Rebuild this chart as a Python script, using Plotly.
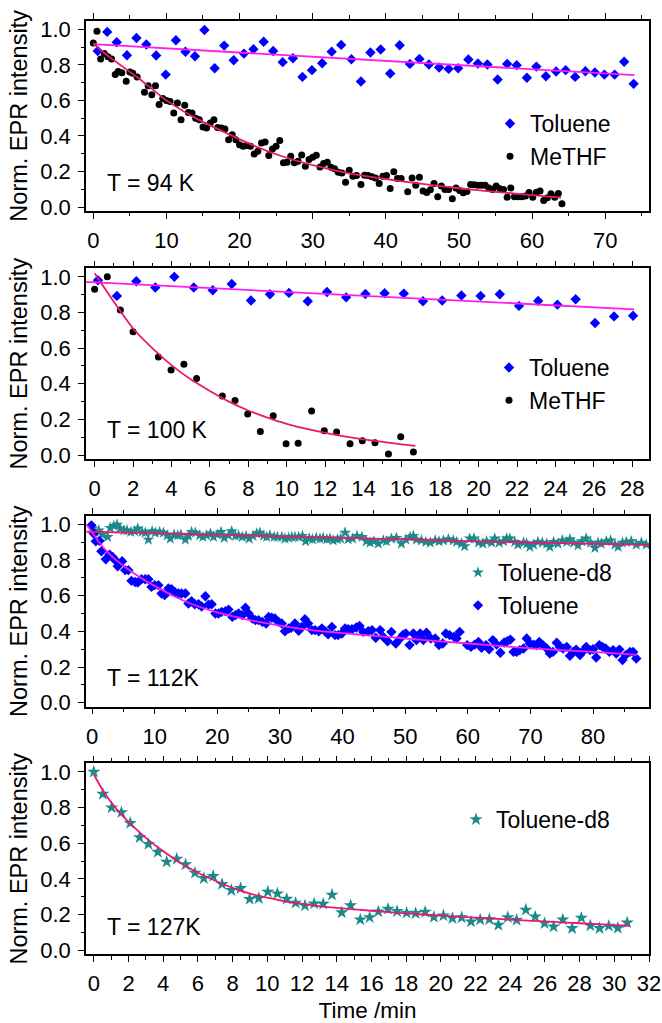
import plotly.graph_objects as go

# ---------------- data ----------------
# Panel 1: T = 94 K
p1_tol_t = [0.6, 1.9, 3.2, 4.6, 5.9, 7.25, 8.6, 9.9, 11.3, 12.6,
            13.9, 15.2, 16.6, 17.9, 19.2, 20.6, 21.9, 23.3, 24.6, 25.9,
            27.3, 28.6, 29.9, 31.3, 32.6, 33.9, 35.3, 36.6, 37.9, 39.3,
            40.6, 41.9, 43.3, 44.6, 45.9, 47.3, 48.6, 49.9, 51.3, 52.6,
            53.9, 55.3, 56.6, 57.9, 59.3, 60.6, 61.9, 63.3, 64.6, 65.9,
            67.3, 68.6, 69.9, 71.3, 72.6, 73.9]
p1_tol_i = [0.878, 0.985, 0.927, 0.854, 0.951, 0.914, 0.852, 0.745, 0.938, 0.873,
            0.848, 0.996, 0.781, 0.908, 0.826, 0.863, 0.888, 0.930, 0.878, 0.815,
            0.837, 0.732, 0.770, 0.809, 0.874, 0.912, 0.831, 0.706, 0.869, 0.886,
            0.751, 0.910, 0.805, 0.833, 0.802, 0.785, 0.777, 0.781, 0.830, 0.807,
            0.802, 0.717, 0.805, 0.798, 0.727, 0.790, 0.736, 0.762, 0.770, 0.732,
            0.764, 0.757, 0.745, 0.745, 0.817, 0.693]
p1_tol_fit_t = [0.0, 74.0]
p1_tol_fit_i = [0.916, 0.742]

p1_me_t = [0.0, 0.5, 1.0, 1.5, 2.0, 2.5, 3.0, 3.4, 3.9, 4.5,
           5.0, 5.4, 6.0, 7.0, 7.5, 8.0, 8.5, 9.0, 9.5, 10.0,
           10.5, 11.0, 11.5, 12.0, 12.5, 13.0, 13.5, 14.0, 14.5, 15.0,
           15.5, 16.0, 16.5, 17.0, 17.5, 18.0, 18.5, 19.0, 19.5, 20.0,
           20.5, 21.0, 21.5, 22.0, 22.5, 23.0, 23.5, 24.0, 24.5, 25.0,
           25.5, 26.0, 26.5, 27.0, 27.5, 28.0, 28.5, 29.0, 29.5, 30.0,
           30.5, 31.0, 31.5, 32.0, 32.5, 33.0, 33.5, 34.0, 34.5, 35.0,
           35.5, 36.0, 36.6, 37.1, 37.6, 38.1, 38.6, 39.1, 39.6, 40.1,
           40.6, 41.1, 41.6, 42.1, 43.0, 43.6, 44.1, 44.6, 45.1, 45.6,
           46.1, 46.6, 47.1, 47.6, 48.1, 48.6, 49.1, 49.6, 50.1, 50.6,
           51.1, 51.6, 52.1, 52.6, 53.1, 53.6, 54.1, 54.6, 55.1, 55.6,
           56.1, 56.6, 57.1, 57.6, 58.1, 58.6, 59.1, 59.6, 60.1, 60.6,
           61.1, 61.6, 62.1, 62.6, 63.1, 63.6, 64.1]
p1_me_i = [0.923, 0.988, 0.833, 0.863, 0.846, 0.833, 0.745, 0.762, 0.755, 0.708,
           0.759, 0.753, 0.732, 0.645, 0.682, 0.632, 0.682, 0.577, 0.611, 0.600,
           0.594, 0.529, 0.585, 0.491, 0.572, 0.532, 0.529, 0.500, 0.491, 0.450,
           0.445, 0.473, 0.491, 0.447, 0.445, 0.439, 0.379, 0.407, 0.379, 0.351,
           0.342, 0.346, 0.342, 0.299, 0.314, 0.361, 0.366, 0.290, 0.327, 0.342,
           0.374, 0.249, 0.252, 0.286, 0.249, 0.258, 0.293, 0.230, 0.267, 0.280,
           0.291, 0.226, 0.245, 0.252, 0.224, 0.215, 0.196, 0.192, 0.140, 0.207,
           0.174, 0.178, 0.127, 0.179, 0.177, 0.170, 0.164, 0.133, 0.174, 0.177,
           0.105, 0.198, 0.161, 0.161, 0.086, 0.164, 0.123, 0.168, 0.090, 0.082,
           0.097, 0.133, 0.058, 0.118, 0.099, 0.099, 0.047, 0.108, 0.093, 0.080,
           0.088, 0.127, 0.125, 0.123, 0.123, 0.123, 0.108, 0.099, 0.118, 0.103,
           0.099, 0.056, 0.108, 0.058, 0.058, 0.058, 0.062, 0.082, 0.056, 0.084,
           0.090, 0.037, 0.052, 0.075, 0.056, 0.077, 0.019]
p1_me_fit_t = [0, 2, 4, 6, 8, 10, 14, 18, 22, 26, 30, 35, 40, 45, 50, 55, 60, 64]
p1_me_fit_i = [0.92, 0.85, 0.79, 0.73, 0.665, 0.60, 0.50, 0.42, 0.345, 0.283, 0.236,
               0.19, 0.158, 0.13, 0.106, 0.086, 0.067, 0.053]

# Panel 2: T = 100 K
p2_tol_t = [0.17, 1.16, 2.17, 3.16, 4.15, 5.16, 6.15, 7.14, 8.14, 9.13,
            10.12, 11.1, 12.1, 13.1, 14.1, 15.1, 16.1, 17.1, 18.1, 19.1,
            20.1, 21.1, 22.1, 23.1, 24.1, 25.05, 26.06, 27.05, 28.04]
p2_tol_i = [0.981, 0.893, 0.975, 0.940, 1.0, 0.940, 0.925, 0.960, 0.867, 0.902,
            0.910, 0.863, 0.915, 0.885, 0.904, 0.908, 0.906, 0.863, 0.867, 0.895,
            0.893, 0.902, 0.837, 0.865, 0.844, 0.874, 0.741, 0.778, 0.782]
p2_tol_fit_t = [-0.48, 28.1]
p2_tol_fit_i = [0.972, 0.818]

p2_me_t = [0.0, 0.66, 1.34, 2.0, 3.32, 3.98, 4.65, 5.31, 6.65, 7.31,
           7.97, 8.63, 9.3, 9.97, 10.6, 11.3, 11.96, 12.6, 13.3, 13.94,
           14.6, 15.3, 15.94, 16.6]
p2_me_i = [0.930, 1.0, 0.814, 0.692, 0.551, 0.478, 0.510, 0.430, 0.332, 0.306,
           0.231, 0.133, 0.221, 0.064, 0.066, 0.248, 0.137, 0.129, 0.064, 0.081,
           0.069, 0.006, 0.103, 0.017]
p2_me_fit_t = [0, 1, 2, 3, 4, 5, 6, 7, 8, 9, 10, 11, 12, 13, 14, 15, 16, 16.7]
p2_me_fit_i = [1.02, 0.86, 0.71, 0.60, 0.505, 0.425, 0.36, 0.30, 0.25, 0.21,
               0.175, 0.148, 0.125, 0.105, 0.088, 0.074, 0.06, 0.052]

# Panel 3: T = 112 K
p3_d8_t = [0.1, 0.5, 1.1, 1.6, 2.5, 2.9, 3.5, 4.0, 4.5, 5.1,
           5.6, 6.2, 6.8, 7.3, 8.0, 8.5, 9.0, 9.6, 10.1, 10.8,
           11.4, 12.0, 12.5, 13.1, 13.7, 14.2, 14.9, 15.4, 15.9, 16.5,
           17.2, 17.7, 18.3, 18.9, 19.4, 20.0, 20.6, 21.1, 21.8, 22.3,
           22.9, 23.4, 24.0, 24.6, 25.1, 25.7, 26.3, 26.8, 27.4, 27.9,
           28.4, 29.1, 29.6, 30.3, 30.8, 31.4, 31.9, 32.4, 33.0, 33.6,
           34.1, 34.7, 35.2, 35.8, 36.4, 36.9, 37.5, 38.0, 38.5, 39.2,
           39.7, 40.4, 40.9, 41.6,
           42.3, 43.1, 43.8, 44.4, 45.0, 45.7, 46.5, 47.0, 47.8, 48.6,
           49.4, 50.1, 50.8, 51.3, 51.8, 52.6, 53.3, 54.0, 54.8, 55.4,
           56.1, 56.9, 57.7, 58.2, 59.0, 59.5, 60.3, 61.0, 61.7, 62.4,
           63.0, 63.8, 64.3, 65.0, 65.7, 66.2, 66.7, 67.5, 68.0, 68.9,
           69.4, 69.9, 70.5, 71.2, 71.9, 72.6, 73.1, 73.7, 74.4, 75.1,
           75.8, 76.3, 76.9, 77.6, 78.2, 78.9, 79.6, 80.3, 80.8, 81.3,
           82.1, 82.8, 83.5, 84.0, 84.7, 85.3, 86.1, 86.9, 87.7, 88.5]
p3_d8_i = [0.976, 0.957, 0.966, 0.942, 0.929, 0.980, 0.991, 0.998, 0.976, 0.966,
           0.966, 0.957, 0.961, 0.976, 0.957, 0.953, 0.914, 0.961, 0.953, 0.957,
           0.953, 0.938, 0.920, 0.942, 0.938, 0.942, 0.914, 0.935, 0.957, 0.953,
           0.938, 0.929, 0.938, 0.948, 0.929, 0.942, 0.957, 0.924, 0.938, 0.961,
           0.935, 0.938, 0.929, 0.933, 0.920, 0.935, 0.948, 0.953, 0.935, 0.929,
           0.938, 0.929, 0.929, 0.929, 0.920, 0.924, 0.929, 0.929, 0.929, 0.935,
           0.905, 0.920, 0.916, 0.924, 0.920, 0.924, 0.916, 0.920, 0.910, 0.916,
           0.920, 0.953, 0.916, 0.920,
           0.935, 0.929, 0.905, 0.897, 0.905, 0.892, 0.910, 0.905, 0.920, 0.924,
           0.892, 0.914, 0.929, 0.935, 0.914, 0.910, 0.901, 0.897, 0.910, 0.905,
           0.910, 0.916, 0.910, 0.901, 0.892, 0.877, 0.920, 0.920, 0.897, 0.892,
           0.905, 0.897, 0.920, 0.897, 0.905, 0.920, 0.920, 0.901, 0.886, 0.897,
           0.892, 0.873, 0.886, 0.901, 0.897, 0.892, 0.873, 0.901, 0.892, 0.910,
           0.901, 0.916, 0.897, 0.882, 0.905, 0.920, 0.897, 0.868, 0.897, 0.892,
           0.905, 0.910, 0.886, 0.873, 0.897, 0.901, 0.905, 0.886, 0.897, 0.886]
p3_d8_fit_t = [-0.9, 10, 20, 30, 40, 50, 60, 70, 80, 88.9]
p3_d8_fit_i = [0.958, 0.950, 0.941, 0.932, 0.924, 0.915, 0.906, 0.898, 0.891, 0.885]

p3_tol_t = [-0.1, 0.27, 0.6, 1.2, 1.5, 2.2, 2.8, 3.3, 3.7, 4.1,
            4.8, 5.3, 5.8, 6.3, 6.9, 7.3, 7.9, 8.5, 9.0, 9.5,
            10.0, 10.6, 11.1, 11.6, 12.2, 12.7, 13.2, 13.8, 14.3, 14.9,
            15.4, 15.9, 16.4, 17.0, 17.5, 18.1, 18.6, 19.1, 19.7, 20.2,
            20.7, 21.3, 21.8, 22.4, 22.9, 23.4, 24.0, 24.5, 25.0, 25.6,
            26.1, 26.6, 27.2, 27.8, 28.2, 28.7, 29.2, 29.8, 30.3, 30.8,
            31.4, 31.8, 32.4, 33.0, 33.5, 34.0, 34.5, 35.1, 35.6, 36.2,
            36.7, 37.2, 37.7, 38.3, 38.8, 39.3, 39.9, 40.4, 40.9,
            41.5, 42.2, 42.7, 43.3, 44.1, 44.7, 45.3, 46.0, 46.5, 47.2,
            47.8, 48.5, 49.2, 49.7, 50.1, 50.7, 51.3, 51.8, 52.4, 52.9,
            53.4, 54.1, 54.8, 55.4, 56.0, 56.5, 57.1, 57.8, 58.2, 58.7,
            59.9, 60.5, 61.1, 61.7, 62.2, 62.9, 63.4, 64.0, 64.6, 65.2,
            65.8, 66.3, 66.8, 67.3, 67.8, 68.3, 68.9, 69.4, 69.9, 70.5,
            71.0, 71.4, 71.9, 72.6, 73.1, 73.6, 74.2, 74.7, 75.2, 75.8,
            76.3, 76.8, 77.3, 77.9, 78.4, 78.9, 79.5, 80.0, 80.5, 81.0,
            81.5, 82.0, 82.6, 83.2, 83.7, 84.2, 84.7, 85.2, 85.9, 86.4,
            86.9]
p3_tol_i = [0.994, 0.948, 0.905, 0.907, 0.849, 0.804, 0.830, 0.817, 0.799, 0.765,
            0.793, 0.743, 0.743, 0.683, 0.677, 0.674, 0.692, 0.692, 0.692, 0.649,
            0.659, 0.659, 0.612, 0.603, 0.640, 0.636, 0.621, 0.612, 0.612, 0.612,
            0.556, 0.569, 0.552, 0.552, 0.539, 0.597, 0.550, 0.552, 0.500, 0.500,
            0.509, 0.513, 0.522, 0.481, 0.491, 0.500, 0.491, 0.532, 0.500, 0.472,
            0.463, 0.463, 0.453, 0.444, 0.481, 0.476, 0.472, 0.453, 0.444, 0.401,
            0.416, 0.420, 0.444, 0.403, 0.425, 0.468, 0.444, 0.407, 0.407, 0.401,
            0.416, 0.401, 0.384, 0.425, 0.379, 0.379, 0.388, 0.416, 0.412,
            0.412, 0.422, 0.431, 0.397, 0.401, 0.407, 0.364, 0.407, 0.369, 0.345,
            0.397, 0.332, 0.360, 0.382, 0.388, 0.323, 0.388, 0.351, 0.388, 0.351,
            0.392, 0.360, 0.360, 0.323, 0.332, 0.388, 0.379, 0.369, 0.360, 0.397,
            0.323, 0.313, 0.326, 0.341, 0.308, 0.323, 0.300, 0.351, 0.326, 0.280,
            0.338, 0.345, 0.354, 0.285, 0.285, 0.295, 0.304, 0.360, 0.332, 0.326,
            0.323, 0.341, 0.326, 0.304, 0.276, 0.285, 0.336, 0.313, 0.304, 0.313,
            0.263, 0.285, 0.298, 0.267, 0.289, 0.313, 0.295, 0.300, 0.254, 0.323,
            0.313, 0.304, 0.285, 0.295, 0.276, 0.298, 0.239, 0.267, 0.285, 0.285,
            0.248]
p3_tol_fit_t = [-0.9, 0, 1, 2, 3, 4, 6, 8, 10, 13, 16, 20, 25, 30, 35, 40, 45, 50,
                60, 70, 80, 87]
p3_tol_fit_i = [1.0, 0.955, 0.905, 0.862, 0.826, 0.795, 0.742, 0.695, 0.655, 0.598,
                0.552, 0.506, 0.465, 0.432, 0.407, 0.39, 0.375, 0.36, 0.332, 0.305,
                0.285, 0.268]

# Panel 4: T = 127 K
p4_d8_t = [0.0, 0.52, 1.03, 1.59, 2.1, 2.64, 3.15, 3.69, 4.2, 4.78,
           5.29, 5.83, 6.34, 6.88, 7.39, 7.93, 8.46, 8.98, 9.51, 10.03,
           10.58, 11.12, 11.63, 12.17, 12.7, 13.22, 13.73, 14.29, 14.8, 15.36,
           15.9, 16.4, 16.96, 17.48, 18.03, 18.55, 19.1, 19.6, 20.15, 20.67,
           21.2, 21.74, 22.27, 22.8, 23.32, 23.86, 24.37, 24.9, 25.44, 25.98,
           26.5, 27.03, 27.57, 28.1, 28.62, 29.15, 29.68, 30.2, 30.74]
p4_d8_i = [1.0, 0.876, 0.80, 0.773, 0.713, 0.633, 0.595, 0.551, 0.496, 0.513,
           0.481, 0.434, 0.404, 0.416, 0.371, 0.337, 0.348, 0.287, 0.292, 0.328,
           0.318, 0.288, 0.266, 0.251, 0.262, 0.260, 0.311, 0.212, 0.252, 0.172,
           0.185, 0.217, 0.232, 0.219, 0.210, 0.208, 0.215, 0.187, 0.195, 0.180,
           0.184, 0.161, 0.172, 0.174, 0.142, 0.185, 0.170, 0.227, 0.189, 0.152,
           0.133, 0.172, 0.124, 0.182, 0.139, 0.124, 0.137, 0.125, 0.155]
p4_fit_t = [0, 0.5, 1, 1.5, 2, 3, 4, 5, 6, 7, 8, 9, 10, 11, 12, 13, 14, 16, 18, 20,
            22, 24, 26, 28, 30, 30.9]
p4_fit_i = [0.985, 0.90, 0.83, 0.77, 0.72, 0.63, 0.555, 0.49, 0.435, 0.39, 0.35,
            0.318, 0.295, 0.275, 0.26, 0.248, 0.238, 0.222, 0.207, 0.195, 0.183,
            0.172, 0.162, 0.152, 0.142, 0.138]

panel_labels = ["T = 94 K", "T = 100 K", "T = 112K", "T = 127K"]
x_ranges = [[-1.0, 76.0], [-0.45, 28.87], [-0.96, 88.93], [-0.45, 32.0]]
x_dticks = [10, 2, 10, 2]
x_minor = [5, 1, 5, 1]
y_range = [-0.022, 1.048]

# ---------------- styling ----------------
FONT = "Liberation Sans, Arial, Helvetica, sans-serif"
BLUE = "#0000FF"
BLACK = "#000000"
TEAL = "#1A8A8A"
MAGENTA = "#FF1CF0"
CRIMSON = "#EA1872"

W, H = 662, 1023
ML, MR = 86, 13
plot_w = W - ML - MR
# panel frames (pixel rows, top/bottom)
frames = [(20.7, 211.0), (268.3, 459.0), (515.7, 706.7), (763.3, 954.3)]
domains = [[1 - b / H, 1 - t / H] for (t, b) in frames]

fig = go.Figure()


def add_points(n, x, y, name, symbol, color, size, legend):
    fig.add_trace(go.Scatter(
        x=x, y=y, mode="markers", name=name,
        marker=dict(symbol=symbol, color=color, size=size, line=dict(width=0)),
        xaxis="x" if n == 1 else f"x{n}", yaxis="y" if n == 1 else f"y{n}",
        legend=legend, showlegend=True))


def add_fit(n, x, y, color):
    fig.add_trace(go.Scatter(
        x=x, y=y, mode="lines", line=dict(color=color, width=1.8, shape="spline",
                                          smoothing=0.6),
        xaxis="x" if n == 1 else f"x{n}", yaxis="y" if n == 1 else f"y{n}",
        showlegend=False, hoverinfo="skip"))


# panel 1
add_points(1, p1_tol_t, p1_tol_i, "Toluene", "diamond", BLUE, 8, "legend")
add_points(1, p1_me_t, p1_me_i, "MeTHF", "circle", BLACK, 7, "legend")
add_fit(1, p1_tol_fit_t, p1_tol_fit_i, MAGENTA)
add_fit(1, p1_me_fit_t, p1_me_fit_i, CRIMSON)
# panel 2
add_points(2, p2_tol_t, p2_tol_i, "Toluene", "diamond", BLUE, 8, "legend2")
add_points(2, p2_me_t, p2_me_i, "MeTHF", "circle", BLACK, 7, "legend2")
add_fit(2, p2_tol_fit_t, p2_tol_fit_i, MAGENTA)
add_fit(2, p2_me_fit_t, p2_me_fit_i, CRIMSON)
# panel 3
add_points(3, p3_d8_t, p3_d8_i, "Toluene-d8", "star", TEAL, 9, "legend3")
add_points(3, p3_tol_t, p3_tol_i, "Toluene", "diamond", BLUE, 8, "legend3")
add_fit(3, p3_d8_fit_t, p3_d8_fit_i, CRIMSON)
add_fit(3, p3_tol_fit_t, p3_tol_fit_i, MAGENTA)
# panel 4
add_points(4, p4_d8_t, p4_d8_i, "Toluene-d8", "star", TEAL, 10, "legend4")
add_fit(4, p4_fit_t, p4_fit_i, CRIMSON)

TICK_SIZE = 22

layout = dict(
    width=W, height=H, autosize=False,
    margin=dict(l=ML, r=MR, t=0, b=0, pad=0),
    paper_bgcolor="white", plot_bgcolor="white",
    font=dict(family=FONT, color="black", size=TICK_SIZE),
    showlegend=True,
)

for i in range(4):
    n = i + 1
    xk = "xaxis" if n == 1 else f"xaxis{n}"
    yk = "yaxis" if n == 1 else f"yaxis{n}"
    layout[xk] = dict(
        domain=[0, 1], range=x_ranges[i], anchor="y" if n == 1 else f"y{n}",
        tick0=0, dtick=x_dticks[i], ticks="outside", ticklen=6, tickwidth=1.3,
        tickcolor="black", showline=True, linecolor="black", linewidth=1.5,
        mirror="allticks", showgrid=False, zeroline=False,
        tickfont=dict(family=FONT, size=TICK_SIZE, color="black"),
        ticklabelstandoff=3, automargin=False,
        minor=dict(dtick=x_minor[i], tick0=0, ticks="outside", ticklen=3.5,
                   tickwidth=1.2, tickcolor="black", showgrid=False),
    )
    layout[yk] = dict(
        domain=domains[i], range=y_range, anchor="x" if n == 1 else f"x{n}",
        tick0=0, dtick=0.2, tickformat=".1f", ticks="outside", ticklen=6,
        tickwidth=1.3, tickcolor="black", showline=True, linecolor="black",
        linewidth=1.5, mirror=True, showgrid=False, zeroline=False,
        tickfont=dict(family=FONT, size=TICK_SIZE, color="black"),
        ticklabelstandoff=3, automargin=False,
        minor=dict(dtick=0.1, tick0=0, ticks="outside", ticklen=3.5,
                   tickwidth=1.2, tickcolor="black", showgrid=False),
        title=dict(text="Norm. EPR intensity", standoff=6,
                   font=dict(family=FONT, size=23.5, color="black")),
    )

layout["xaxis4"]["title"] = dict(text="Time /min", standoff=7,
                                 font=dict(family=FONT, size=22.5, color="black"))

# legends (one per panel): left edge / top edge in pixels
legend_px = [(490, 102), (489, 346), (458, 551), (456, 798)]
for i, (lx, ly) in enumerate(legend_px):
    key = "legend" if i == 0 else f"legend{i + 1}"
    layout[key] = dict(
        x=(lx - ML) / plot_w, y=1 - ly / H, xanchor="left", yanchor="top",
        bgcolor="rgba(0,0,0,0)", borderwidth=0,
        font=dict(family=FONT, size=23, color="black"),
        tracegroupgap=0, itemclick=False, itemdoubleclick=False,
    )

# temperature labels
label_px = [183.3, 430.0, 678.3, 926.7]
layout["annotations"] = [
    dict(text=txt, x=(106 - ML) / plot_w, y=1 - py / H, xref="paper", yref="paper",
         xanchor="left", yanchor="middle", showarrow=False, borderpad=0,
         font=dict(family=FONT, size=23, color="black"))
    for txt, py in zip(panel_labels, label_px)
]

fig.update_layout(**layout)
fig.write_html(
    "out.html",
    config={"displayModeBar": False},
    post_script="document.body.style.margin='0px';"
                "document.body.style.padding='0px';"
                "document.body.style.overflow='hidden';",
)
